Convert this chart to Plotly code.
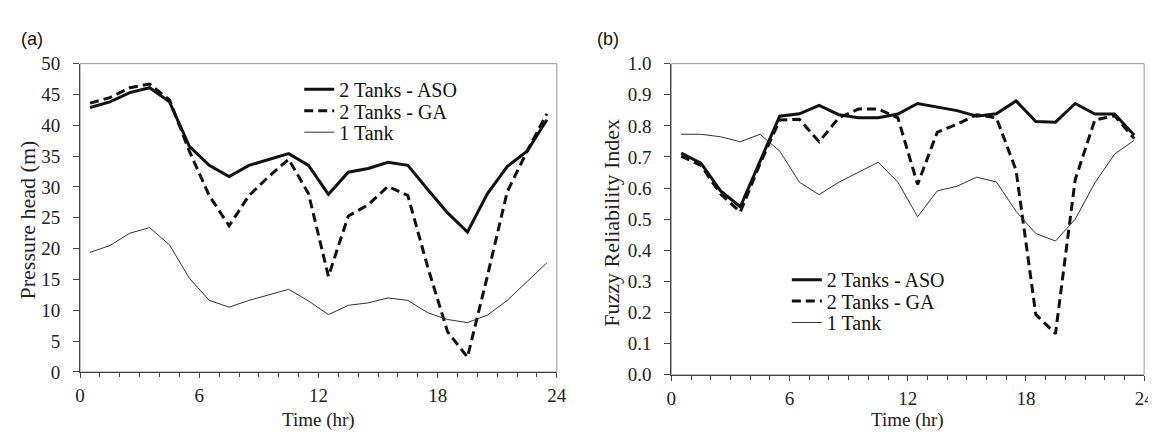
import plotly.graph_objects as go

hours = [0.5, 1.5, 2.5, 3.5, 4.5, 5.5, 6.5, 7.5, 8.5, 9.5, 10.5, 11.5,
         12.5, 13.5, 14.5, 15.5, 16.5, 17.5, 18.5, 19.5, 20.5, 21.5, 22.5, 23.5]

# Panel (a): pressure head (m)
head_aso = [42.9, 43.8, 45.3, 46.1, 43.8, 36.6, 33.5, 31.7, 33.5, 34.5, 35.4, 33.5,
            28.8, 32.4, 33.0, 34.0, 33.5, 29.6, 25.8, 22.7, 28.9, 33.3, 35.8, 40.9]
head_ga = [43.6, 44.5, 46.1, 46.7, 44.1, 35.8, 28.6, 23.7, 28.6, 31.7, 34.5, 28.9,
           15.5, 25.3, 27.1, 30.1, 28.6, 17.0, 6.5, 2.4, 15.5, 29.2, 35.8, 41.9]
head_1tank = [19.4, 20.5, 22.5, 23.4, 20.6, 15.2, 11.6, 10.5, 11.6, 12.5, 13.4, 11.5,
              9.3, 10.8, 11.2, 12.0, 11.6, 9.6, 8.5, 8.0, 9.2, 11.6, 14.6, 17.7]

# Panel (b): fuzzy reliability index
fri_aso = [0.713, 0.680, 0.591, 0.540, 0.686, 0.831, 0.839, 0.866, 0.836, 0.826, 0.826, 0.838,
           0.872, 0.861, 0.849, 0.831, 0.839, 0.880, 0.814, 0.812, 0.872, 0.838, 0.838, 0.770]
fri_ga = [0.703, 0.673, 0.581, 0.523, 0.678, 0.819, 0.821, 0.749, 0.826, 0.854, 0.854, 0.826,
          0.612, 0.780, 0.805, 0.836, 0.826, 0.657, 0.194, 0.132, 0.627, 0.819, 0.833, 0.759]
fri_1tank = [0.773, 0.773, 0.765, 0.749, 0.773, 0.719, 0.619, 0.579, 0.619, 0.652, 0.683, 0.619,
             0.508, 0.591, 0.606, 0.635, 0.620, 0.525, 0.454, 0.430, 0.500, 0.617, 0.709, 0.754]

series_names = ["2 Tanks - ASO", "2 Tanks - GA", "1 Tank"]
x_ticks = [0, 6, 12, 18, 24]

W, H = 1156, 432
SERIF = "Liberation Serif"
SANS = "Liberation Sans"

def px_x(p):
    return p / W

def px_y(p):
    return 1 - p / H

styles = [
    dict(color="#111111", width=3, dash="solid"),
    dict(color="#111111", width=3, dash="9px,5px"),
    dict(color="#333333", width=1, dash="solid"),
]

legend_ids_a = ["legend", "legend2", "legend3"]
legend_ids_b = ["legend4", "legend5", "legend6"]

fig = go.Figure()
for name, ys, st, lg in zip(series_names, [head_aso, head_ga, head_1tank], styles, legend_ids_a):
    fig.add_trace(go.Scatter(x=hours, y=ys, mode="lines", name=name, line=st,
                             xaxis="x", yaxis="y", legend=lg))
for name, ys, st, lg in zip(series_names, [fri_aso, fri_ga, fri_1tank], styles, legend_ids_b):
    fig.add_trace(go.Scatter(x=hours, y=ys, mode="lines", name=name, line=st,
                             xaxis="x2", yaxis="y2", legend=lg))

axis_col = "#444444"

def tickfont():
    return dict(family=SERIF, size=19, color="#222222")

def xaxis_cfg(domain, anchor):
    return dict(domain=domain, anchor=anchor, range=[0, 24], tickvals=x_ticks,
                ticks="outside", ticklen=5, tickcolor=axis_col, tickwidth=1,
                minor=dict(dtick=1, tick0=0, ticks="outside", ticklen=4, tickcolor=axis_col),
                showline=True, linecolor=axis_col, linewidth=1, showgrid=False,
                zeroline=False, tickfont=tickfont(), ticklabelstandoff=1)

def yaxis_cfg(domain, anchor, rng, dtick, fmt):
    return dict(domain=domain, anchor=anchor, range=rng, dtick=dtick, tick0=0,
                tickformat=fmt, ticks="outside", ticklen=6, tickcolor=axis_col,
                showline=True, linecolor=axis_col, linewidth=1, showgrid=False,
                zeroline=False, tickfont=tickfont(), ticklabelstandoff=9)

def legend_cfg(xpx, ypx):
    return dict(x=px_x(xpx), y=px_y(ypx), xanchor="left", yanchor="middle",
                bgcolor="rgba(0,0,0,0)", itemwidth=30, borderwidth=0,
                font=dict(family=SERIF, size=20, color="#111111"))

layout_legends = {}
for lg, ypx in zip(legend_ids_a, [75, 97.5, 120]):
    layout_legends[lg] = legend_cfg(290, ypx)
for lg, ypx in zip(legend_ids_b, [275, 297.5, 320]):
    layout_legends[lg] = legend_cfg(784, ypx)

fig.update_layout(
    width=W, height=H,
    margin=dict(l=0, r=0, t=0, b=0),
    font=dict(family=SERIF, color="#222222"),
    paper_bgcolor="white", plot_bgcolor="white",
    xaxis=xaxis_cfg([px_x(68), px_x(551)], "y"),
    yaxis=yaxis_cfg([px_y(372), px_y(48)], "x", [0, 50], 5, "d"),
    xaxis2=xaxis_cfg([px_x(667), px_x(1146)], "y2"),
    yaxis2=yaxis_cfg([px_y(375), px_y(48)], "x2", [0, 1.0], 0.1, ".1f"),
    showlegend=True,
    **layout_legends,
)

# light grey frame on top/right
for xr, yr in [("x domain", "y domain"), ("x2 domain", "y2 domain")]:
    fig.add_shape(type="rect", xref=xr, yref=yr, x0=0, x1=1, y0=0, y1=1,
                  line=dict(color="#999999", width=1), layer="below")

ann_font = dict(family=SERIF, size=19, color="#222222")
fig.add_annotation(text="Time (hr)", x=px_x(309.5), y=px_y(423), xref="paper", yref="paper",
                   showarrow=False, font=ann_font, xanchor="center", yanchor="middle")
fig.add_annotation(text="Time (hr)", x=px_x(906.5), y=px_y(423), xref="paper", yref="paper",
                   showarrow=False, font=ann_font, xanchor="center", yanchor="middle")
fig.add_annotation(text="Pressure head (m)", x=px_x(15), y=px_y(212), xref="paper", yref="paper",
                   showarrow=False, textangle=-90, font=dict(family=SERIF, size=22, color="#222222"),
                   xanchor="center", yanchor="middle")
fig.add_annotation(text="Fuzzy Reliability Index", x=px_x(606), y=px_y(215), xref="paper", yref="paper",
                   showarrow=False, textangle=-90, font=dict(family=SERIF, size=22, color="#222222"),
                   xanchor="center", yanchor="middle")
fig.add_annotation(text="(a)", x=px_x(19), y=px_y(22), xref="paper", yref="paper",
                   showarrow=False, font=dict(family=SANS, size=18, color="#111111"),
                   xanchor="center", yanchor="middle")
fig.add_annotation(text="(b)", x=px_x(603), y=px_y(22), xref="paper", yref="paper",
                   showarrow=False, font=dict(family=SANS, size=18, color="#111111"),
                   xanchor="center", yanchor="middle")

fig.write_html("out.html")
